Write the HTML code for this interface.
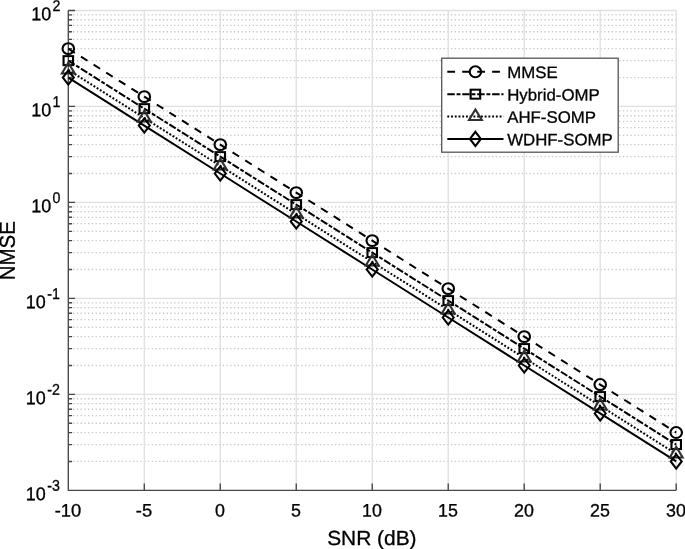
<!DOCTYPE html>
<html><head><meta charset="utf-8"><title>NMSE vs SNR</title>
<style>html,body{margin:0;padding:0;background:#fff}svg{display:block}</style></head>
<body>
<svg width="685" height="549" viewBox="0 0 685 549" font-family='"Liberation Sans", Arial, Helvetica, sans-serif' fill="#000" text-rendering="geometricPrecision">
<rect width="685" height="549" fill="#fff"/>
<path d="M68.3 461.46H676.2M68.3 444.56H676.2M68.3 432.56H676.2M68.3 423.26H676.2M68.3 415.66H676.2M68.3 409.24H676.2M68.3 403.67H676.2M68.3 398.76H676.2M68.3 365.48H676.2M68.3 348.58H676.2M68.3 336.58H676.2M68.3 327.28H676.2M68.3 319.68H676.2M68.3 313.26H676.2M68.3 307.69H676.2M68.3 302.78H676.2M68.3 269.50H676.2M68.3 252.60H676.2M68.3 240.60H676.2M68.3 231.30H676.2M68.3 223.70H676.2M68.3 217.28H676.2M68.3 211.71H676.2M68.3 206.80H676.2M68.3 173.52H676.2M68.3 156.62H676.2M68.3 144.62H676.2M68.3 135.32H676.2M68.3 127.72H676.2M68.3 121.30H676.2M68.3 115.73H676.2M68.3 110.82H676.2M68.3 77.54H676.2M68.3 60.64H676.2M68.3 48.64H676.2M68.3 39.34H676.2M68.3 31.74H676.2M68.3 25.32H676.2M68.3 19.75H676.2M68.3 14.84H676.2" stroke="#c8c8c8" stroke-width="1.3" stroke-dasharray="1.3 2.44" stroke-dashoffset="-1.1" fill="none"/>
<path d="M144.29 10.45V490.35M220.28 10.45V490.35M296.26 10.45V490.35M372.25 10.45V490.35M448.24 10.45V490.35M524.23 10.45V490.35M600.21 10.45V490.35M676.20 10.45V490.35M68.3 394.37H676.2M68.3 298.39H676.2M68.3 202.41H676.2M68.3 106.43H676.2M68.3 10.45H676.2" stroke="#e0e0e0" stroke-width="1.35" fill="none"/>
<path d="M68.3 10.45V490.35H676.2M68.30 490.35v-6.8M144.29 490.35v-6.8M220.28 490.35v-6.8M296.26 490.35v-6.8M372.25 490.35v-6.8M448.24 490.35v-6.8M524.23 490.35v-6.8M600.21 490.35v-6.8M676.20 490.35v-6.8M68.3 490.35h6.8M68.3 394.37h6.8M68.3 298.39h6.8M68.3 202.41h6.8M68.3 106.43h6.8M68.3 10.45h6.8M68.3 461.46h3.8M68.3 444.56h3.8M68.3 432.56h3.8M68.3 423.26h3.8M68.3 415.66h3.8M68.3 409.24h3.8M68.3 403.67h3.8M68.3 398.76h3.8M68.3 365.48h3.8M68.3 348.58h3.8M68.3 336.58h3.8M68.3 327.28h3.8M68.3 319.68h3.8M68.3 313.26h3.8M68.3 307.69h3.8M68.3 302.78h3.8M68.3 269.50h3.8M68.3 252.60h3.8M68.3 240.60h3.8M68.3 231.30h3.8M68.3 223.70h3.8M68.3 217.28h3.8M68.3 211.71h3.8M68.3 206.80h3.8M68.3 173.52h3.8M68.3 156.62h3.8M68.3 144.62h3.8M68.3 135.32h3.8M68.3 127.72h3.8M68.3 121.30h3.8M68.3 115.73h3.8M68.3 110.82h3.8M68.3 77.54h3.8M68.3 60.64h3.8M68.3 48.64h3.8M68.3 39.34h3.8M68.3 31.74h3.8M68.3 25.32h3.8M68.3 19.75h3.8M68.3 14.84h3.8" stroke="#484848" stroke-width="1.35" fill="none"/>
<text transform="translate(68.00 516.50) rotate(0.03) scale(1.02 1)" font-size="18" text-anchor="middle" stroke="#000" stroke-width="0.3">-10</text>
<text transform="translate(143.99 516.50) rotate(0.03) scale(1.02 1)" font-size="18" text-anchor="middle" stroke="#000" stroke-width="0.3">-5</text>
<text transform="translate(219.98 516.50) rotate(0.03) scale(0.99 1)" font-size="18" text-anchor="middle" stroke="#000" stroke-width="0.3">0</text>
<text transform="translate(295.96 516.50) rotate(0.03) scale(0.99 1)" font-size="18" text-anchor="middle" stroke="#000" stroke-width="0.3">5</text>
<text transform="translate(371.95 516.50) rotate(0.03) scale(0.99 1)" font-size="18" text-anchor="middle" stroke="#000" stroke-width="0.3">10</text>
<text transform="translate(447.94 516.50) rotate(0.03) scale(0.99 1)" font-size="18" text-anchor="middle" stroke="#000" stroke-width="0.3">15</text>
<text transform="translate(523.93 516.50) rotate(0.03) scale(0.99 1)" font-size="18" text-anchor="middle" stroke="#000" stroke-width="0.3">20</text>
<text transform="translate(599.91 516.50) rotate(0.03) scale(0.99 1)" font-size="18" text-anchor="middle" stroke="#000" stroke-width="0.3">25</text>
<text transform="translate(675.90 516.50) rotate(0.03) scale(0.99 1)" font-size="18" text-anchor="middle" stroke="#000" stroke-width="0.3">30</text>
<text transform="translate(59.80 490.85) rotate(0.03) scale(0.96 1.05)" font-size="14.8" text-anchor="end" stroke="#000" stroke-width="0.3">-3</text>
<text transform="translate(45.87 500.15) rotate(0.03) scale(1.0 1.03)" font-size="18" text-anchor="end" stroke="#000" stroke-width="0.3">10</text>
<text transform="translate(59.80 394.87) rotate(0.03) scale(0.96 1.05)" font-size="14.8" text-anchor="end" stroke="#000" stroke-width="0.3">-2</text>
<text transform="translate(45.87 404.17) rotate(0.03) scale(1.0 1.03)" font-size="18" text-anchor="end" stroke="#000" stroke-width="0.3">10</text>
<text transform="translate(59.80 298.89) rotate(0.03) scale(0.96 1.05)" font-size="14.8" text-anchor="end" stroke="#000" stroke-width="0.3">-1</text>
<text transform="translate(45.87 308.19) rotate(0.03) scale(1.0 1.03)" font-size="18" text-anchor="end" stroke="#000" stroke-width="0.3">10</text>
<text transform="translate(60.50 202.91) rotate(0.03) scale(0.96 1.05)" font-size="14.8" text-anchor="end" stroke="#000" stroke-width="0.3">0</text>
<text transform="translate(51.30 212.21) rotate(0.03) scale(1.0 1.03)" font-size="18" text-anchor="end" stroke="#000" stroke-width="0.3">10</text>
<text transform="translate(60.50 106.93) rotate(0.03) scale(0.96 1.05)" font-size="14.8" text-anchor="end" stroke="#000" stroke-width="0.3">1</text>
<text transform="translate(51.30 116.23) rotate(0.03) scale(1.0 1.03)" font-size="18" text-anchor="end" stroke="#000" stroke-width="0.3">10</text>
<text transform="translate(60.50 10.95) rotate(0.03) scale(0.96 1.05)" font-size="14.8" text-anchor="end" stroke="#000" stroke-width="0.3">2</text>
<text transform="translate(51.30 20.25) rotate(0.03) scale(1.0 1.03)" font-size="18" text-anchor="end" stroke="#000" stroke-width="0.3">10</text>
<text transform="translate(371.85 545.00) rotate(0.03) scale(1.025 1)" font-size="20.4" text-anchor="middle" stroke="#000" stroke-width="0.3">SNR (dB)</text>
<text transform="translate(14.85 250.70) rotate(-89.97) scale(1.003 1.06)" font-size="20.4" text-anchor="middle" stroke="#000" stroke-width="0.3">NMSE</text>
<polyline points="68.30,48.64 144.29,96.63 220.28,144.62 296.26,192.61 372.25,240.60 448.24,288.59 524.23,336.58 600.21,384.57 676.20,432.56" fill="none" stroke="#000" stroke-width="2.0" stroke-dasharray="7.76 7.184"/>
<polyline points="68.30,60.64 144.29,108.63 220.28,156.62 296.26,204.61 372.25,252.60 448.24,300.59 524.23,348.58 600.21,396.57 676.20,444.56" fill="none" stroke="#000" stroke-width="2.0" stroke-dasharray="7.5 1.77 3.9 1.77"/>
<polyline points="68.30,69.94 144.29,117.93 220.28,165.92 296.26,213.91 372.25,261.90 448.24,309.89 524.23,357.88 600.21,405.87 676.20,453.86" fill="none" stroke="#000" stroke-width="2.0" stroke-dasharray="1.9 1.8369"/>
<polyline points="68.30,77.54 144.29,125.53 220.28,173.52 296.26,221.51 372.25,269.50 448.24,317.49 524.23,365.48 600.21,413.47 676.20,461.46" fill="none" stroke="#000" stroke-width="2.0"/>
<g transform="scale(1.056 1)">
<circle cx="64.68" cy="48.64" r="5.45" fill="none" stroke="#000" stroke-width="2.0"/>
<circle cx="136.64" cy="96.63" r="5.45" fill="none" stroke="#000" stroke-width="2.0"/>
<circle cx="208.59" cy="144.62" r="5.45" fill="none" stroke="#000" stroke-width="2.0"/>
<circle cx="280.55" cy="192.61" r="5.45" fill="none" stroke="#000" stroke-width="2.0"/>
<circle cx="352.51" cy="240.60" r="5.45" fill="none" stroke="#000" stroke-width="2.0"/>
<circle cx="424.47" cy="288.59" r="5.45" fill="none" stroke="#000" stroke-width="2.0"/>
<circle cx="496.43" cy="336.58" r="5.45" fill="none" stroke="#000" stroke-width="2.0"/>
<circle cx="568.38" cy="384.57" r="5.45" fill="none" stroke="#000" stroke-width="2.0"/>
<circle cx="640.34" cy="432.56" r="5.45" fill="none" stroke="#000" stroke-width="2.0"/>
<rect x="60.18" y="56.14" width="9.0" height="9.0" fill="none" stroke="#000" stroke-width="2.0"/>
<rect x="132.14" y="104.13" width="9.0" height="9.0" fill="none" stroke="#000" stroke-width="2.0"/>
<rect x="204.09" y="152.12" width="9.0" height="9.0" fill="none" stroke="#000" stroke-width="2.0"/>
<rect x="276.05" y="200.11" width="9.0" height="9.0" fill="none" stroke="#000" stroke-width="2.0"/>
<rect x="348.01" y="248.10" width="9.0" height="9.0" fill="none" stroke="#000" stroke-width="2.0"/>
<rect x="419.97" y="296.09" width="9.0" height="9.0" fill="none" stroke="#000" stroke-width="2.0"/>
<rect x="491.93" y="344.08" width="9.0" height="9.0" fill="none" stroke="#000" stroke-width="2.0"/>
<rect x="563.88" y="392.07" width="9.0" height="9.0" fill="none" stroke="#000" stroke-width="2.0"/>
<rect x="635.84" y="440.06" width="9.0" height="9.0" fill="none" stroke="#000" stroke-width="2.0"/>
<path d="M64.68 62.86L70.80 73.47H58.55Z" fill="none" stroke="#303030" stroke-width="2.0"/>
<path d="M136.64 110.85L142.76 121.46H130.51Z" fill="none" stroke="#303030" stroke-width="2.0"/>
<path d="M208.59 158.84L214.72 169.45H202.47Z" fill="none" stroke="#303030" stroke-width="2.0"/>
<path d="M280.55 206.83L286.68 217.44H274.43Z" fill="none" stroke="#303030" stroke-width="2.0"/>
<path d="M352.51 254.82L358.63 265.43H346.38Z" fill="none" stroke="#303030" stroke-width="2.0"/>
<path d="M424.47 302.81L430.59 313.42H418.34Z" fill="none" stroke="#303030" stroke-width="2.0"/>
<path d="M496.43 350.80L502.55 361.41H490.30Z" fill="none" stroke="#303030" stroke-width="2.0"/>
<path d="M568.38 398.79L574.51 409.40H562.26Z" fill="none" stroke="#303030" stroke-width="2.0"/>
<path d="M640.34 446.78L646.47 457.39H634.22Z" fill="none" stroke="#303030" stroke-width="2.0"/>
<path d="M64.68 70.44L69.88 77.54L64.68 84.64L59.48 77.54Z" fill="none" stroke="#000" stroke-width="2.0"/>
<path d="M136.64 118.43L141.84 125.53L136.64 132.63L131.44 125.53Z" fill="none" stroke="#000" stroke-width="2.0"/>
<path d="M208.59 166.42L213.79 173.52L208.59 180.62L203.39 173.52Z" fill="none" stroke="#000" stroke-width="2.0"/>
<path d="M280.55 214.41L285.75 221.51L280.55 228.61L275.35 221.51Z" fill="none" stroke="#000" stroke-width="2.0"/>
<path d="M352.51 262.40L357.71 269.50L352.51 276.60L347.31 269.50Z" fill="none" stroke="#000" stroke-width="2.0"/>
<path d="M424.47 310.39L429.67 317.49L424.47 324.59L419.27 317.49Z" fill="none" stroke="#000" stroke-width="2.0"/>
<path d="M496.43 358.38L501.63 365.48L496.43 372.58L491.23 365.48Z" fill="none" stroke="#000" stroke-width="2.0"/>
<path d="M568.38 406.37L573.58 413.47L568.38 420.57L563.18 413.47Z" fill="none" stroke="#000" stroke-width="2.0"/>
<path d="M640.34 454.36L645.54 461.46L640.34 468.56L635.14 461.46Z" fill="none" stroke="#000" stroke-width="2.0"/>
</g>
<rect x="441.7" y="58.2" width="176.5" height="94.0" fill="#fff" stroke="#555" stroke-width="1.3"/>
<path d="M447.3 71.80H503.5" fill="none" stroke="#000" stroke-width="2.0" stroke-dasharray="7.76 7.184"/>
<path d="M447.3 94.17H503.5" fill="none" stroke="#000" stroke-width="2.0" stroke-dasharray="7.5 1.77 3.9 1.77"/>
<path d="M447.3 116.54H503.5" fill="none" stroke="#000" stroke-width="2.0" stroke-dasharray="1.9 1.8369"/>
<path d="M447.3 138.91H503.5" fill="none" stroke="#000" stroke-width="2.0"/>
<g transform="scale(1.056 1)">
<circle cx="450.19" cy="71.80" r="5.45" fill="none" stroke="#000" stroke-width="2.0"/>
<rect x="445.69" y="89.67" width="9.0" height="9.0" fill="none" stroke="#000" stroke-width="2.0"/>
<path d="M450.19 109.47L456.31 120.08H444.06Z" fill="none" stroke="#303030" stroke-width="2.0"/>
<path d="M450.19 131.81L455.39 138.91L450.19 146.01L444.99 138.91Z" fill="none" stroke="#000" stroke-width="2.0"/>
</g>
<text transform="translate(507.20 78.10) rotate(0.03) scale(1.019 1)" font-size="16.5" text-anchor="start" stroke="#000" stroke-width="0.3">MMSE</text>
<text transform="translate(507.20 100.47) rotate(0.03) scale(1.019 1)" font-size="16.5" text-anchor="start" stroke="#000" stroke-width="0.3">Hybrid-OMP</text>
<text transform="translate(507.20 122.84) rotate(0.03) scale(1.019 1)" font-size="16.5" text-anchor="start" stroke="#000" stroke-width="0.3">AHF-SOMP</text>
<text transform="translate(507.20 145.21) rotate(0.03) scale(1.019 1)" font-size="16.5" text-anchor="start" stroke="#000" stroke-width="0.3">WDHF-SOMP</text>
</svg>
</body></html>
